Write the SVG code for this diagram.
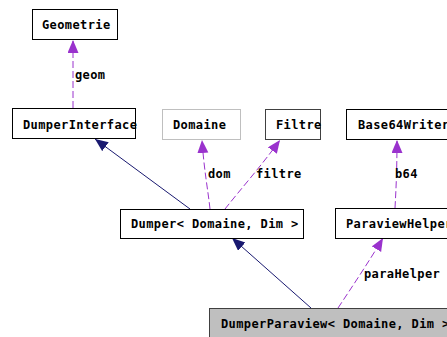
<svg xmlns="http://www.w3.org/2000/svg" width="447" height="337" viewBox="0 0 447 337">
<style>
.box{fill:#fff;stroke:#000;stroke-width:1}
.t{font-family:"DejaVu Sans Mono","Liberation Mono",monospace;font-size:12px;font-weight:bold;letter-spacing:0.4px;fill:#000}
.use{fill:none;stroke:#9a32cd;stroke-width:1;stroke-dasharray:7,3}
.inh{fill:none;stroke:#191970;stroke-width:1}
</style>
<defs>
<marker id="ap" markerUnits="userSpaceOnUse" markerWidth="14" markerHeight="12" refX="13" refY="5.5" orient="auto" viewBox="0 0 14 12">
<path d="M0,0 L13,5.5 L0,11 z" fill="#9a32cd" stroke="none"/>
</marker>
<marker id="an" markerUnits="userSpaceOnUse" markerWidth="14" markerHeight="12" refX="13" refY="5.5" orient="auto" viewBox="0 0 14 12">
<path d="M0,0 L13,5.5 L0,11 z" fill="#191970" stroke="none"/>
</marker>
</defs>
<rect width="447" height="337" fill="#fff"/>
<g id="connectors">
<path class="use" d="M73,108 L73,40" marker-end="url(#ap)"/>
<text class="t" x="75" y="79">geom</text>
<path class="use" d="M210,209 C208,190 204,170 202,140" marker-end="url(#ap)"/>
<text class="t" x="208" y="178">dom</text>
<path class="use" d="M225,209 C240,190 262,165 280,140" marker-end="url(#ap)"/>
<text class="t" x="256" y="178">filtre</text>
<path class="inh" d="M190,209 L95,139" marker-end="url(#an)"/>
<path class="use" d="M395,208 C396,190 397,170 397,140" marker-end="url(#ap)"/>
<text class="t" x="395" y="178">b64</text>
<path class="inh" d="M311,308 L232,238" marker-end="url(#an)"/>
<path class="use" d="M338,308 C350,290 370,260 383,238" marker-end="url(#ap)"/>
<text class="t" x="364" y="278">paraHelper</text>
</g>
<g id="Geometrie">
<rect class="box" x="32.5" y="9.5" width="85" height="30"/>
<text class="t" x="42" y="29">Geometrie</text>
</g>
<g id="DumperInterface">
<rect class="box" x="12.5" y="108.5" width="123" height="30"/>
<text class="t" x="23" y="129">DumperInterface</text>
</g>
<g id="Domaine">
<rect class="box" x="162.5" y="109.5" width="78" height="30" style="stroke:#bfbfbf"/>
<text class="t" x="173" y="129">Domaine</text>
</g>
<g id="Filtre">
<rect class="box" x="265.5" y="109.5" width="55" height="30" style="stroke:#404040"/>
<text class="t" x="276" y="129">Filtre</text>
</g>
<g id="Base64Writer">
<rect class="box" x="346.5" y="109.5" width="110" height="30"/>
<text class="t" x="358" y="129">Base64Writer</text>
</g>
<g id="Dumper">
<rect class="box" x="120.5" y="209.5" width="183" height="29"/>
<text class="t" x="131" y="228">Dumper&lt; Domaine, Dim &gt;</text>
</g>
<g id="ParaviewHelper">
<rect class="box" x="335.5" y="208.5" width="120" height="30"/>
<text class="t" x="346" y="228">ParaviewHelper</text>
</g>
<g id="DumperParaview">
<rect class="box" x="209.5" y="308.5" width="250" height="40" style="fill:#bfbfbf;stroke:#404040"/>
<text class="t" x="221" y="328">DumperParaview&lt; Domaine, Dim &gt;</text>
</g>
</svg>
